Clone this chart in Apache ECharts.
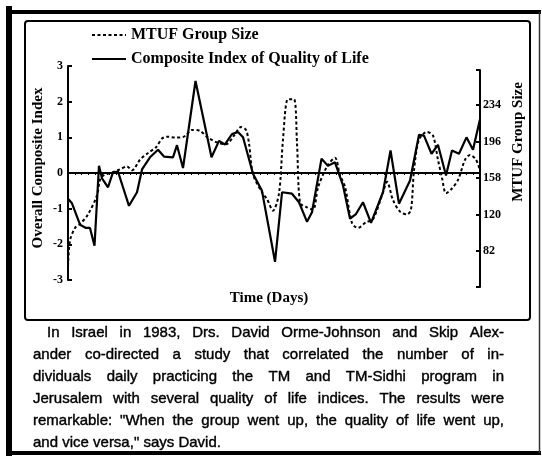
<!DOCTYPE html>
<html><head><meta charset="utf-8">
<script src="https://cdn.jsdelivr.net/npm/echarts@6/dist/echarts.min.js"></script>
<style>html,body{margin:0;padding:0;background:#fff}#c{width:542px;height:462px}</style>
</head><body><div id="c"></div>
<script>
// ---- data ----
const indexDays = [0,0.58,1.75,2.62,3.2,3.86,4.51,4.95,5.83,6.55,7.28,8.01,8.88,10.05,10.78,11.94,13.11,13.98,15.29,15.87,16.75,18.57,20.9,21.99,22.86,23.88,24.76,25.49,26.94,28.25,30.15,31.17,32.62,33.64,34.81,35.53,36.92,37.86,38.88,40.05,41.07,41.94,42.96,44.13,45.87,46.97,48.2,49.81,51.12,51.84,52.94,53.88,55.05,55.92,56.94,58.03,58.98,60];
const indexValues = [-0.72,-0.85,-1.45,-1.54,-1.54,-2.04,0.2,-0.15,-0.4,0.02,0.04,-0.4,-0.92,-0.54,0.1,0.44,0.65,0.46,0.44,0.78,0.14,2.58,0.44,0.9,0.8,1.09,1.15,1.0,-0.02,-0.5,-2.49,-0.54,-0.58,-0.82,-1.37,-1.1,0.4,0.2,0.3,-0.35,-1.28,-1.15,-0.82,-1.4,-0.54,0.63,-0.86,-0.21,1.07,1.05,0.54,0.79,-0.07,0.63,0.54,1.0,0.65,1.51];
const groupDays = [0,0.29,1.02,1.75,2.91,4.22,4.66,5.24,6.55,7.57,8.59,9.32,10.49,11.65,12.82,13.69,14.42,15.58,16.89,18.06,19.22,20.39,21.7,23.01,24.17,25.19,25.92,26.36,26.94,28.25,28.98,29.85,30.73,31.31,32.04,32.91,33.35,33.79,34.66,35.68,36.41,37.72,38.88,39.61,40.34,41.36,42.23,43.4,44.42,45.87,46.46,47.33,48.35,49.37,49.95,50.39,51.12,52.29,53.16,53.88,54.47,55.05,55.78,56.8,57.82,58.54,59.42,60];
const groupValues = [66,93,106,110,120,140,156,161,164,167,170,166,177,184,190,199,201,200,201,208,207,200,195,193,202,211,208,194,162,143,136,124,142,198,240,240,194,132,128,125,148,170,179,161,149,111,106,112,115,143,154,135,123,120,125,166,198,206,202,177,158,142,146,156,177,182,177,166];
const leftTicks = [-3, -2, -1, 0, 1, 2, 3];
const rightTickLabels = [82, 120, 158, 196, 234];
const rightAxisRange = [44.5, 270.4];
const seriesNames = ['MTUF Group Size', 'Composite Index of Quality of Life'];
const titles = { left: 'Overall Composite Index', right: 'MTUF Group Size', bottom: 'Time (Days)' };
const captionLines = [
  'In Israel in 1983, Drs. David Orme-Johnson and Skip Alex-',
  'ander co-directed a study that correlated the number of in-',
  'dividuals daily practicing the TM and TM-Sidhi program in',
  'Jerusalem with several quality of life indices.  The results were',
  'remarkable: "When the group went up, the quality of life went up,',
  'and vice versa," says David.'
];

// ---- build ----
const serif = '"Liberation Serif","Times New Roman",serif';
const sans = '"Liberation Sans",Arial,sans-serif';
const chart = echarts.init(document.getElementById('c'), null, { renderer: 'canvas' });

const graphics = [];
// outer frame
graphics.push({ type: 'line', shape: { x1: 9, y1: 6, x2: 9, y2: 456 }, style: { stroke: '#000', lineWidth: 6 } });
graphics.push({ type: 'line', shape: { x1: 6, y1: 12, x2: 541, y2: 12 }, style: { stroke: '#000', lineWidth: 4 } });
graphics.push({ type: 'line', shape: { x1: 6, y1: 453, x2: 541, y2: 453 }, style: { stroke: '#000', lineWidth: 4 } });
graphics.push({ type: 'line', shape: { x1: 539.5, y1: 12, x2: 539.5, y2: 453 }, style: { stroke: '#333', lineWidth: 1.5 } });
// inner chart box
graphics.push({ type: 'rect', shape: { x: 25, y: 21, width: 505, height: 299, r: 3 }, style: { fill: 'none', stroke: '#000', lineWidth: 2 } });
// axis titles
graphics.push({ type: 'text', x: 38, y: 168, rotation: Math.PI / 2, style: { text: titles.left, font: 'bold 15px ' + serif, fill: '#000', align: 'center', verticalAlign: 'middle' } });
graphics.push({ type: 'text', x: 518, y: 142, rotation: Math.PI / 2, style: { text: titles.right, font: 'bold 15px ' + serif, fill: '#000', align: 'center', verticalAlign: 'middle' } });
graphics.push({ type: 'text', x: 269, y: 298, style: { text: titles.bottom, font: 'bold 15px ' + serif, fill: '#000', align: 'center', verticalAlign: 'middle' } });

// justified caption
const capFont = '15px ' + sans;
const mctx = document.createElement('canvas').getContext('2d');
mctx.font = capFont;
captionLines.forEach((line, i) => {
  const x0 = i === 0 ? 47 : 33, x1 = 504, y = 333 + i * 22;
  const words = line.split(/\s+/);
  if (i === captionLines.length - 1) {
    graphics.push({ type: 'text', x: x0, y: y, style: { text: line, font: capFont, fill: '#000', stroke: '#000', lineWidth: 0.4, align: 'left', verticalAlign: 'middle' } });
    return;
  }
  const widths = words.map(w => mctx.measureText(w).width);
  const total = widths.reduce((a, b) => a + b, 0);
  const gap = (x1 - x0 - total) / (words.length - 1);
  let x = x0;
  words.forEach((w, j) => {
    graphics.push({ type: 'text', x: x, y: y, style: { text: w, font: capFont, fill: '#000', stroke: '#000', lineWidth: 0.4, align: 'left', verticalAlign: 'middle' } });
    x += widths[j] + gap;
  });
});

const indexData = indexDays.map((d, i) => [d, indexValues[i]]);
const groupData = groupDays.map((d, i) => [d, groupValues[i]]);

chart.setOption({
  animation: false,
  backgroundColor: '#fff',
  legend: {
    data: seriesNames,
    orient: 'vertical', left: 86, top: 22, itemGap: 8,
    itemWidth: 34, itemHeight: 14,
    itemStyle: { opacity: 0 },
    textStyle: { fontFamily: serif, fontWeight: 'bold', fontSize: 16, color: '#000' }
  },
  grid: [
    { left: 68, right: 62, top: 66, bottom: 182, containLabel: false },
    { left: 68, right: 62, top: 70, bottom: 175, containLabel: false }
  ],
  xAxis: [
    { gridIndex: 0, type: 'value', min: 0, max: 60, interval: 1,
      axisLine: { onZero: true, lineStyle: { color: '#000', width: 2 } },
      axisTick: { show: true, length: 2, lineStyle: { color: '#000', width: 1 } },
      axisLabel: { show: false }, splitLine: { show: false } },
    { gridIndex: 1, type: 'value', min: 0, max: 60, show: false }
  ],
  yAxis: [
    { gridIndex: 0, type: 'value', min: -3, max: 3, interval: 1, position: 'left',
      axisLine: { show: true, onZero: false, lineStyle: { color: '#000', width: 2 } },
      axisTick: { show: true, inside: true, length: 4, lineStyle: { color: '#000', width: 2 } },
      axisLabel: { show: true, margin: 5, fontFamily: serif, fontWeight: 'bold', fontSize: 12, color: '#000' },
      splitLine: { show: false } },
    { gridIndex: 1, type: 'value', min: rightAxisRange[0], max: rightAxisRange[1], position: 'right',
      axisLine: { show: true, onZero: false, lineStyle: { color: '#000', width: 2 } },
      axisTick: { show: true, inside: true, length: 4, customValues: [rightAxisRange[0]].concat(rightTickLabels, [rightAxisRange[1]]), lineStyle: { color: '#000', width: 2 } },
      axisLabel: { show: true, margin: 3, customValues: rightTickLabels, fontFamily: serif, fontWeight: 'bold', fontSize: 12, color: '#000' },
      splitLine: { show: false } }
  ],
  series: [
    { name: seriesNames[0], type: 'line', xAxisIndex: 1, yAxisIndex: 1, data: groupData,
      symbol: 'none', smooth: 0.3, lineStyle: { color: '#000', width: 2, type: [3, 2.5] }, itemStyle: { color: '#000' } },
    { name: seriesNames[1], type: 'line', xAxisIndex: 0, yAxisIndex: 0, data: indexData,
      symbol: 'none', smooth: false, lineStyle: { color: '#000', width: 2.2 }, itemStyle: { color: '#000' } }
  ],
  graphic: graphics
});
</script></body></html>
